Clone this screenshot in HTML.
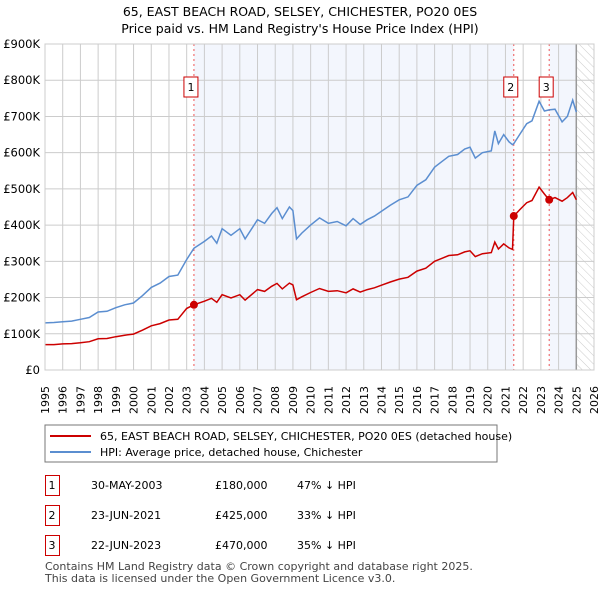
<!DOCTYPE html>
<html><head><meta charset="utf-8"><style>
body{margin:0;background:#fff;font-family:"DejaVu Sans","Liberation Sans",sans-serif;}
svg text{font-family:"DejaVu Sans","Liberation Sans",sans-serif;}
</style></head><body>
<svg id="c" width="600" height="590" xmlns="http://www.w3.org/2000/svg">
<defs><pattern id="hatch" width="6" height="6" patternUnits="userSpaceOnUse" patternTransform="rotate(-45)"><line x1="0" y1="0" x2="0" y2="6" stroke="#ccc" stroke-width="1"/></pattern></defs>
<text x="300" y="16" text-anchor="middle" font-size="12.5">65, EAST BEACH ROAD, SELSEY, CHICHESTER, PO20 0ES</text>
<text x="300" y="33" text-anchor="middle" font-size="12.5">Price paid vs. HM Land Registry's House Price Index (HPI)</text>
<g id="plot"></g>
<rect x="45" y="425" width="452" height="37" fill="#fff" stroke="#777"/>
<line x1="50" y1="436" x2="91" y2="436" stroke="#cc0000" stroke-width="2"/>
<text x="100" y="440" font-size="11">65, EAST BEACH ROAD, SELSEY, CHICHESTER, PO20 0ES (detached house)</text>
<line x1="50" y1="452" x2="91" y2="452" stroke="#5b8ed0" stroke-width="2"/>
<text x="100" y="456" font-size="11">HPI: Average price, detached house, Chichester</text>
<g id="table" font-size="11"></g>
<text x="45" y="570" font-size="11" fill="#444">Contains HM Land Registry data © Crown copyright and database right 2025.</text>
<text x="45" y="582" font-size="11" fill="#444">This data is licensed under the Open Government Licence v3.0.</text>
</svg>
<script>
const times=[1995.0,1995.5,1996,1996.5,1997,1997.5,1998,1998.5,1999,1999.5,2000,2000.5,2001,2001.5,2002,2002.5,2003,2003.41,2004,2004.4,2004.7,2005,2005.5,2006,2006.3,2007,2007.4,2007.8,2008.1,2008.4,2008.8,2009.0,2009.2,2009.5,2010,2010.5,2011,2011.5,2012,2012.4,2012.8,2013.2,2013.6,2014,2014.5,2015,2015.5,2016,2016.5,2017,2017.4,2017.8,2018.3,2018.7,2019.0,2019.3,2019.7,2020.2,2020.4,2020.6,2020.9,2021.2,2021.40,2021.47,2021.8,2022.2,2022.5,2022.9,2023.2,2023.47,2023.8,2024.2,2024.5,2024.8,2025.0];
const hpiValues=[130,131,133,135,140,145,160,162,172,180,185,205,228,240,258,262,305,336,355,370,350,390,372,390,362,415,405,432,448,418,450,440,362,378,400,420,405,410,398,418,402,415,425,438,455,470,478,510,525,560,575,590,595,610,615,585,600,605,660,625,650,630,622,625,650,680,688,742,715,718,720,685,700,745,712];
const priceValues=[70,70,72,73,75,78,86,87,92,96,99,110,122,128,138,140,170,180,190,198,187,208,199,208,193,222,217,231,239,224,240,235,194,202,214,225,217,219,213,224,215,222,227,234,243,251,256,273,281,300,308,316,318,326,329,313,321,324,353,334,348,337,333,425,442,462,468,505,486,470,476,466,476,490,470];
const saleTimes=[2003.41,2021.47,2023.47];
const salePrices=[180,425,470];
const saleLabels=["1","2","3"];
const saleDates=["30-MAY-2003","23-JUN-2021","22-JUN-2023"];
const salePriceText=["£180,000","£425,000","£470,000"];
const saleHpiText=["47% ↓ HPI","33% ↓ HPI","35% ↓ HPI"];
const yTicks=[0,100,200,300,400,500,600,700,800,900];
const yTickLabels=["£0","£100K","£200K","£300K","£400K","£500K","£600K","£700K","£800K","£900K"];
const xYears=[1995,1996,1997,1998,1999,2000,2001,2002,2003,2004,2005,2006,2007,2008,2009,2010,2011,2012,2013,2014,2015,2016,2017,2018,2019,2020,2021,2022,2023,2024,2025,2026];
const dataEnd=2025.0;

const NS="http://www.w3.org/2000/svg";
const X0=45,X1=594,Y0=370,Y1=44;
const xs=t=>X0+(t-1995)/(2026-1995)*(X1-X0);
const ys=v=>Y0-v/900*(Y0-Y1);
const plot=document.getElementById('plot');
function mk(tag,attrs,parent){const e=document.createElementNS(NS,tag);for(const k in attrs)e.setAttribute(k,attrs[k]);(parent||plot).appendChild(e);return e;}
let r;
r=mk('rect',{x:X0,y:Y1,width:X1-X0,height:Y0-Y1,fill:'#fff'});


r=mk('rect',{x:xs(saleTimes[0]),y:Y1,width:xs(saleTimes[1])-xs(saleTimes[0]),height:Y0-Y1,fill:'#f3f6fd'});


r=mk('rect',{x:xs(saleTimes[2]),y:Y1,width:xs(dataEnd)-xs(saleTimes[2]),height:Y0-Y1,fill:'#f3f6fd'});


r=mk('rect',{x:xs(dataEnd),y:Y1,width:X1-xs(dataEnd),height:Y0-Y1,fill:'url(#hatch)'});


xYears.forEach(y=>{const l=mk('line',{x1:xs(y),x2:xs(y),y1:Y1,y2:Y0,stroke:'#ccc'});


const t=mk('text',{x:0,y:0,'font-size':11,transform:`translate(${xs(y)+4},414) rotate(-90)`});t.textContent=y;

});
yTicks.forEach((v,i)=>{const l=mk('line',{x1:X0,x2:X1,y1:ys(v),y2:ys(v),stroke:'#ccc'});


const t=mk('text',{x:40,y:ys(v)+4,'font-size':11.5,'text-anchor':'end'});t.textContent=yTickLabels[i];

});
r=mk('line',{x1:xs(dataEnd),x2:xs(dataEnd),y1:Y1,y2:Y0,stroke:'#999','stroke-width':1.5});


saleTimes.forEach((t,i)=>{const l=mk('line',{x1:xs(t),x2:xs(t),y1:Y1,y2:Y0,stroke:'#e55','stroke-dasharray':'2,3'});

});
const pts=vals=>times.map((t,i)=>xs(t).toFixed(1)+','+ys(vals[i]).toFixed(1)).join(' ');
r=mk('polyline',{points:pts(hpiValues),fill:'none',stroke:'#5b8ed0','stroke-width':1.5});


r=mk('polyline',{points:pts(priceValues),fill:'none',stroke:'#cc0000','stroke-width':1.5});


saleTimes.forEach((t,i)=>{const c=mk('circle',{cx:xs(t),cy:ys(salePrices[i]),r:4,fill:'#cc0000'});


const b=mk('rect',{x:xs(t)-10,y:77,width:14,height:20,fill:'#fff',stroke:'#cc0000'});


const tx=mk('text',{x:xs(t)-3,y:91,'font-size':11,'text-anchor':'middle'});tx.textContent=saleLabels[i];

});
r=mk('rect',{x:X0,y:Y1,width:X1-X0,height:Y0-Y1,fill:'none',stroke:'#ccc'});


const tb=document.getElementById('table');
saleLabels.forEach((s,i)=>{const y=475+i*30;
const b=mk('rect',{x:45.5,y:y+0.5,width:14,height:20,fill:'#fff',stroke:'#cc0000'},tb);


const cols=[[52,s,'middle'],[91,saleDates[i],'start'],[215,salePriceText[i],'start'],[297,saleHpiText[i],'start']];
cols.forEach((c,j)=>{const t=mk('text',{x:c[0],y:y+14,'text-anchor':c[2]},tb);t.textContent=c[1];

});});
</script>
</body></html>
